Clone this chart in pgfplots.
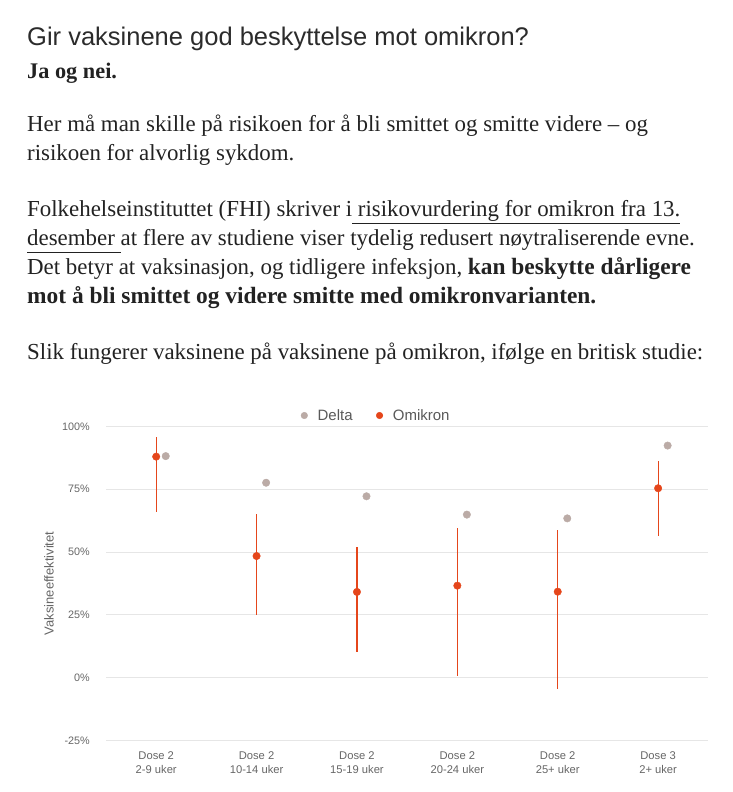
\documentclass[border=0pt]{standalone}
\usepackage{fontspec}
\setmainfont{Liberation Serif}
\newfontfamily\sans{Liberation Sans}
\usepackage{pgfplots}
\pgfplotsset{compat=1.18}
\usepackage{pgfplotstable}
\definecolor{omi}{HTML}{E5461B}
\definecolor{del}{HTML}{BBABA6}
\definecolor{gridc}{HTML}{E6E6E6}
\definecolor{tickc}{HTML}{666666}
\definecolor{bodyc}{HTML}{222222}
\definecolor{titlec}{HTML}{2B2B2B}

\pgfplotstableread{
x y ep em
0 88.0 7.7 22.0
1 48.4 16.8 23.6
2 34.1 17.9 24.1
3 36.6 23.0 35.8
4 34.2 24.6 38.6
5 75.4 10.9 18.9
}\omitab
\pgfplotstableread{
x y
0.095 88.2
1.095 77.6
2.095 72.2
3.095 64.9
4.095 63.4
5.095 92.4
}\deltab

\newlength\ulw
\newcommand\ul[1]{\settowidth\ulw{#1}\rlap{\rule[-7pt]{\ulw}{0.9pt}}#1}
\newcommand\bld[1]{{\bfseries\fontsize{23.4}{29}\selectfont #1}}

\begin{document}
\begin{tikzpicture}[x=1pt,y=1pt]
\path[use as bounding box] (0,0) rectangle (732,792);
\tikzset{bt/.style={anchor=base west, inner sep=0pt, text=bodyc, font=\fontsize{22.9}{29}\selectfont}}
\node[anchor=base west, inner sep=0pt, text=titlec, font=\sans\fontsize{25.5}{30}\selectfont] at (27,746) {Gir vaksinene god beskyttelse mot omikron?};
\node[bt, font=\bfseries\fontsize{22.3}{29}\selectfont] at (27,713) {Ja og nei.};
\node[bt] at (27,660) {Her må man skille på risikoen for å bli smittet og smitte videre – og};
\node[bt] at (27,631) {risikoen for alvorlig sykdom.};
\node[bt] at (27,575) {Folkehelseinstituttet (FHI) skriver i\ul{ risikovurdering for omikron fra 13.}};
\node[bt] at (27,546) {\ul{desember }at flere av studiene viser tydelig redusert nøytraliserende evne.};
\node[bt] at (27,517) {Det betyr at vaksinasjon, og tidligere infeksjon, \bld{kan beskytte dårligere}};
\node[bt] at (27,488) {\bld{mot å bli smittet og videre smitte med omikronvarianten.}};
\node[bt] at (27,432) {Slik fungerer vaksinene på vaksinene på omikron, ifølge en britisk studie:};

\begin{axis}[
  at={(106pt,51.7pt)}, anchor=south west,
  scale only axis, width=602.3pt, height=313.8pt,
  xmin=-0.5, xmax=5.5, ymin=-25, ymax=100,
  clip=false,
  axis line style={draw=none},
  major tick length=0pt,
  ymajorgrids, grid style={color=gridc, line width=0.8pt},
  ytick={-25,0,25,50,75,100},
  yticklabels={-25\%,0\%,25\%,50\%,75\%,100\%},
  yticklabel style={anchor=east, inner sep=0pt, xshift=-16pt, text=tickc, font=\sans\fontsize{10.8}{13}\selectfont},
  xtick={0,1,2,3,4,5},
  xticklabels={{Dose 2\\2-9 uker},{Dose 2\\10-14 uker},{Dose 2\\15-19 uker},{Dose 2\\20-24 uker},{Dose 2\\25+ uker},{Dose 3\\2+ uker}},
  xticklabel style={align=center, anchor=north, inner sep=0pt, yshift=-10.7pt, text=tickc, font=\sans\fontsize{11.2}{14}\selectfont},
  ylabel={Vaksineeffektivitet},
  every axis y label/.style={at={(rel axis cs:0,0.5)}, rotate=90, anchor=south, inner sep=0pt, yshift=52pt, text=tickc, font=\sans\fontsize{13}{15}\selectfont},
  legend columns=2,
  legend image code/.code={\path (0pt,0pt) -- (6pt,0pt); \draw[#1, mark size=3.3pt] plot coordinates {(3pt,0pt)};},
  legend style={at={(rel axis cs:0.3238,1.035)}, anchor=west, draw=none, fill=none, inner sep=0pt, outer sep=0pt,
    font=\sans\fontsize{15}{17}\selectfont, text=black!65,
    nodes={inner sep=0pt},
    /tikz/every odd column/.append style={column sep=10pt},
    /tikz/every even column/.append style={column sep=23.6pt}},
]
\addplot[only marks, mark=*, mark size=3.75pt, color=del, mark options={draw=del, fill=del}] table[x=x, y=y] {\deltab};
\addlegendentry{Delta}
\addplot[only marks, mark=*, mark size=3.75pt, color=omi, mark options={draw=omi, fill=omi},
  error bars/.cd, y dir=both, y explicit, error mark=none,
  error bar style={line width=1.1pt, color=omi}]
  table[x=x, y=y, y error plus=ep, y error minus=em] {\omitab};
\addlegendentry{Omikron}
\end{axis}
\end{tikzpicture}
\end{document}
